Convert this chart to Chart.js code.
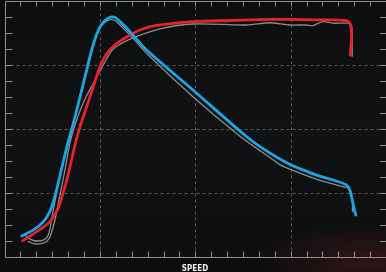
<!DOCTYPE html>
<html>
<head>
<meta charset="utf-8">
<script src="https://cdn.jsdelivr.net/npm/chart.js@4"></script>
<style>
  html, body { margin: 0; padding: 0; background: #0b0c0d; }
  #wrap { width: 386px; height: 272px; }
</style>
</head>
<body>
<div id="wrap"><canvas id="c"></canvas></div>
<script>
// x in minor-tick units (0-24), y in minor-tick units (0-16)
const blueX = [1.08, 1.81, 2.43, 2.86, 3.17, 3.42, 3.67, 3.92, 4.18, 4.43, 4.68, 4.93, 5.18, 5.43, 5.69, 5.94, 6.25, 6.63, 6.94, 7.26, 7.89, 8.94, 11.85, 15.18, 16.38, 17.93, 18.97, 19.63, 20.67, 21.52, 21.72, 21.83, 21.97, 22.10];
const blueY = [1.33, 1.71, 2.21, 2.89, 3.83, 4.83, 5.89, 6.89, 7.83, 8.77, 9.77, 10.77, 11.77, 12.77, 13.64, 14.27, 14.74, 15.00, 15.00, 14.73, 14.10, 12.96, 10.46, 7.58, 6.71, 5.81, 5.39, 5.14, 4.83, 4.52, 4.21, 3.79, 3.16, 2.64];

const redX = [1.14, 2.02, 2.75, 3.04, 3.38, 3.55, 3.74, 3.99, 4.24, 4.49, 4.74, 5.16, 5.58, 6.00, 6.25, 6.53, 7.01, 7.68, 8.52, 9.57, 11.85, 14.18, 16.06, 18.58, 20.47, 21.41, 21.66, 21.79, 21.83, 21.80, 21.75];
const redY = [1.04, 1.60, 2.13, 2.49, 3.08, 3.58, 4.21, 5.14, 6.21, 7.27, 8.14, 9.41, 10.66, 11.91, 12.43, 12.86, 13.33, 13.77, 14.21, 14.49, 14.73, 14.80, 14.86, 14.86, 14.84, 14.80, 14.71, 14.46, 13.89, 13.27, 12.64];

const grayAX = [1.28, 1.53, 1.81, 2.10, 2.43, 2.67, 2.82, 2.95, 3.08, 3.26, 3.55, 3.89, 4.18, 4.49, 4.81, 5.12, 5.40, 5.69, 5.94, 6.25, 6.63, 6.94, 7.26, 7.99, 9.04, 11.85, 14.79, 16.19, 17.30, 17.64, 19.08, 20.47, 21.30, 21.68, 21.83, 21.89, 21.89];
const grayAY = [1.39, 1.18, 1.05, 1.02, 1.08, 1.24, 1.64, 2.33, 3.02, 3.96, 5.33, 6.89, 7.96, 9.08, 10.21, 11.39, 12.52, 13.58, 14.21, 14.64, 14.86, 14.80, 14.52, 13.79, 12.64, 10.04, 7.58, 6.58, 5.81, 5.64, 5.08, 4.63, 4.41, 4.31, 3.89, 3.38, 2.85];

const grayBX = [1.49, 1.91, 2.43, 2.67, 2.86, 3.17, 3.48, 3.80, 4.11, 4.43, 4.74, 5.12, 5.56, 6.00, 6.38, 6.75, 7.13, 8.08, 9.77, 11.85, 15.18, 16.69, 17.95, 18.96, 19.40, 20.03, 20.65, 21.66, 21.83, 21.87, 21.87];
const grayBY = [0.98, 0.83, 0.88, 1.02, 1.29, 2.33, 3.89, 5.46, 7.13, 8.27, 9.14, 10.02, 10.83, 11.64, 12.33, 12.93, 13.24, 13.71, 14.27, 14.58, 14.52, 14.66, 14.52, 14.52, 14.48, 14.73, 14.63, 14.63, 14.49, 14.02, 12.58];

const xMax = 24, yMax = 16;
const xMajorEvery = 6, yMajorEvery = 4;
const axisTitle = 'SPEED';

function pts(xs, ys) {
    return xs.map((x, i) => ({ x: x, y: ys[i] }));
}

const frame = {
    id: 'frame',
    beforeDraw(chart) {
        const ctx = chart.ctx;
        const { width, height } = chart;
        ctx.save();
        ctx.fillStyle = '#0b0c0d';
        ctx.fillRect(0, 0, width, height);
        const a = chart.chartArea;
        const g = ctx.createLinearGradient(0, a.top, 0, a.bottom);
        g.addColorStop(0, '#0d0e10');
        g.addColorStop(0.5, '#111214');
        g.addColorStop(1, '#0d0e10');
        ctx.fillStyle = g;
        ctx.fillRect(a.left, a.top, a.right - a.left, a.bottom - a.top);
        // faint reddish glow along the bottom right
        ctx.translate(365, 262);
        ctx.scale(1.6, 0.55);
        const r = ctx.createRadialGradient(0, 0, 0, 0, 0, 70);
        r.addColorStop(0, 'rgba(85,30,30,0.5)');
        r.addColorStop(1, 'rgba(85,30,30,0)');
        ctx.fillStyle = r;
        ctx.fillRect(-300, -300, 600, 600);
        ctx.restore();
    },
    beforeDatasetsDraw(chart) {
        const ctx = chart.ctx;
        const xs = chart.scales.x, ys = chart.scales.y;
        const a = chart.chartArea;
        ctx.save();
        // dashed major grid
        ctx.strokeStyle = 'rgba(150,150,150,0.55)';
        ctx.lineWidth = 1;
        ctx.setLineDash([3, 3]);
        for (let i = xMajorEvery; i < xMax; i += xMajorEvery) {
            const px = Math.round(xs.getPixelForValue(i)) + 0.5;
            ctx.beginPath(); ctx.moveTo(px, a.top); ctx.lineTo(px, a.bottom); ctx.stroke();
        }
        for (let j = yMajorEvery; j < yMax; j += yMajorEvery) {
            const py = Math.round(ys.getPixelForValue(j)) + 0.5;
            ctx.beginPath(); ctx.moveTo(a.left, py); ctx.lineTo(a.right, py); ctx.stroke();
        }
        ctx.setLineDash([]);
        // frame
        ctx.strokeStyle = '#8e8e8e';
        const L = Math.round(a.left) + 0.5, T = Math.round(a.top) + 0.5, B = Math.round(a.bottom) + 0.5;
        ctx.beginPath();
        ctx.moveTo(a.right, T); ctx.lineTo(L, T); ctx.lineTo(L, B); ctx.lineTo(a.right, B);
        ctx.stroke();
        // minor ticks
        ctx.beginPath();
        for (let i = 1; i < xMax; i++) {
            const px = Math.round(xs.getPixelForValue(i)) + 0.5;
            ctx.moveTo(px, T); ctx.lineTo(px, T + 5);
            ctx.moveTo(px, B); ctx.lineTo(px, B - 6);
        }
        for (let j = 1; j < yMax; j++) {
            const py = Math.round(ys.getPixelForValue(j)) + 0.5;
            ctx.moveTo(L, py); ctx.lineTo(L + 7, py);
            ctx.moveTo(a.right, py); ctx.lineTo(a.right - 6, py);
        }
        ctx.stroke();
        ctx.restore();
    },
    afterDraw(chart) {
        const ctx = chart.ctx;
        ctx.save();
        ctx.fillStyle = '#f2f2f2';
        ctx.font = 'bold 8px "Liberation Sans Narrow", "DejaVu Sans Condensed", sans-serif';
        ctx.textAlign = 'center';
        ctx.textBaseline = 'alphabetic';
        ctx.fillText(axisTitle, 195, 270.5);
        ctx.restore();
    }
};

const common = { fill: false, pointRadius: 0, tension: 0.3, borderCapStyle: 'round', borderJoinStyle: 'round' };

new Chart(document.getElementById('c'), {
    type: 'line',
    data: {
        datasets: [
            Object.assign({ data: pts(blueX, blueY), borderColor: '#1ba6e2', borderWidth: 2.8, order: 0 }, common),
            Object.assign({ data: pts(redX, redY), borderColor: '#e5232b', borderWidth: 2.8, order: 1 }, common),
            Object.assign({ data: pts(grayAX, grayAY), borderColor: '#8c8c8c', borderWidth: 1.3, order: 2 }, common),
            Object.assign({ data: pts(grayBX, grayBY), borderColor: '#8c8c8c', borderWidth: 1.3, order: 3 }, common)
        ]
    },
    options: {
        responsive: true,
        maintainAspectRatio: false,
        animation: false,
        layout: { padding: { left: 4.6, top: 1.3, right: 0, bottom: 14.7 } },
        plugins: { legend: { display: false }, tooltip: { enabled: false } },
        scales: {
            x: { type: 'linear', min: 0, max: xMax, display: false },
            y: { min: 0, max: yMax, display: false }
        }
    },
    plugins: [frame]
});
</script>
</body>
</html>
